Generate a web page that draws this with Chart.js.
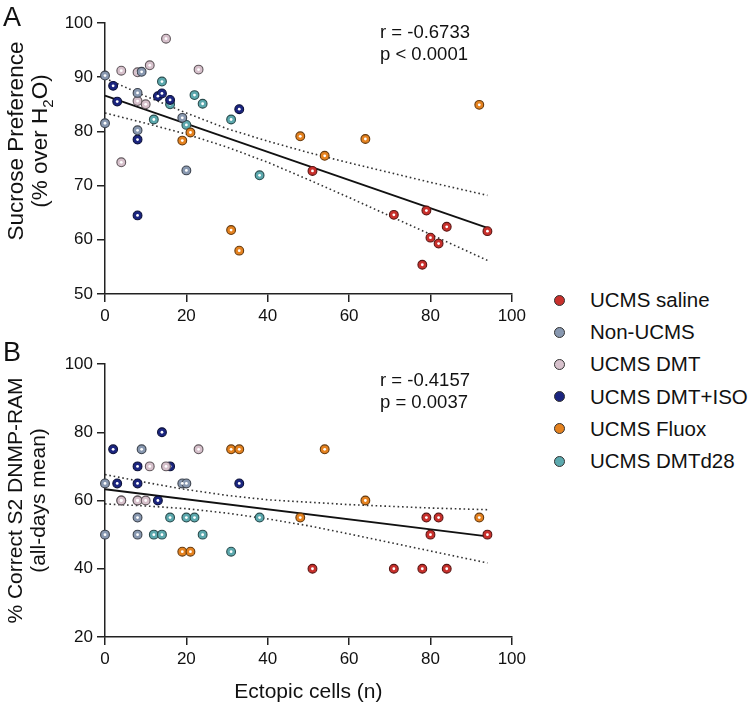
<!DOCTYPE html>
<html><head><meta charset="utf-8">
<script src="https://cdn.jsdelivr.net/npm/chart.js@4.4.1/dist/chart.umd.min.js"></script>
<style>
html,body{margin:0;padding:0;background:#fff;width:750px;height:706px;overflow:hidden;font-family:"Liberation Sans",Arial,sans-serif;color:#111;}
canvas{position:absolute;left:0;}
#ca{top:0;}
#cb{top:340px;}
.lbl{position:absolute;font-size:27px;line-height:27px;}
.ann{position:absolute;font-size:18.5px;line-height:22px;white-space:nowrap;}
.ytitle{position:absolute;width:260px;height:48px;left:-102px;top:117px;text-align:center;font-size:22.5px;line-height:24px;transform:rotate(-90deg);white-space:nowrap;}
#legend{position:absolute;left:550px;top:284px;}
.item{height:32.2px;display:flex;align-items:center;font-size:20.5px;white-space:nowrap;}
.dot{width:9px;height:9px;border-radius:50%;border:1px solid #333;margin-left:4px;margin-right:25px;flex:none;}
</style></head>
<body>
<canvas id="ca" width="530" height="340"></canvas>
<canvas id="cb" width="530" height="366"></canvas>
<div class="lbl" style="left:3px;top:4px;">A</div>
<div class="lbl" style="left:3px;top:339px;">B</div>
<div class="ytitle">Sucrose Preference<br>(% over H<sub style="font-size:15px;line-height:0;">2</sub>O)</div>
<div class="ann" style="left:380px;top:21px;">r = -0.6733<br>p &lt; 0.0001</div>
<div class="ann" style="left:380px;top:369px;">r = -0.4157<br>p = 0.0037</div>
<div id="legend"></div>
<script>
// ---------- data ----------
const groupNames = ["UCMS saline","Non-UCMS","UCMS DMT","UCMS DMT+ISO","UCMS Fluox","UCMS DMTd28"];
const groupColors = ["#C9302C","#8898B0","#D7C1CC","#1B2580","#E5821F","#5CA9AE"];

const salineX = [51,71,78,79,80,82,84,94];
const salineA = [72.7,64.6,55.4,65.4,60.4,59.3,62.4,61.6];
const salineB = [40,40,40,55,50,55,40,50];

const nonX = [0,0,8,8,9,19,20];
const nonA = [90.3,81.5,87.1,80.2,91,82.5,72.8];
const nonB = [65,50,55,50,75,65,65];

const dmtX = [4,4,8,8,10,11,15,23];
const dmtA = [91.2,74.3,90.9,85.6,85,92.2,97.1,91.4];
const dmtB = [60,60,60,60,60,70,70,75];

const isoX = [2,3,8,8,13,14,16,33];
const isoA = [88.4,85.5,78.5,64.5,86.5,87,85.8,84.1];
const isoB = [75,65,65,70,60,80,70,65];

const fluoxX = [19,21,31,33,48,54,64,92];
const fluoxA = [78.3,79.8,61.8,58,79.1,75.5,78.6,84.9];
const fluoxB = [45,45,75,75,55,75,60,55];

const d28X = [12,14,16,20,22,24,31,38];
const d28A = [82.2,89.2,85,81.2,86.7,85.1,82.2,71.9];
const d28B = [50,50,55,55,55,50,45,55];

// regression lines and 95% bands
const fitX = [0,94];
const fitA = [86.6,62.2];
const fitB = [63.3,49.5];
const bandX = [0,10,20,30,40,50,60,70,80,94];
const bandAUpper = [89.8,86.5,83.4,80.5,78.2,76.1,74.2,72.4,70.6,68.2];
const bandALower = [83.4,81.5,79.5,77.1,74.3,71.1,67.8,64.4,61.0,56.2];
const bandBUpper = [67.6,65.3,63.2,61.5,60.2,59.5,58.8,58.3,57.8,57.3];
const bandBLower = [59.0,58.4,57.6,56.3,54.6,52.6,50.2,47.7,45.2,41.7];

const xTicks = [0,20,40,60,80,100];
const yTicksA = [50,60,70,80,90,100];
const yTicksB = [20,40,60,80,100];

// ---------- helpers ----------
const FONT = "'Liberation Sans', Arial, sans-serif";
const pts = (xs, ys) => xs.map((x,i)=>({x:x,y:ys[i]}));
function darker(hex){
  const n=parseInt(hex.slice(1),16);
  const r=(n>>16)&255,g=(n>>8)&255,b=n&255;
  const f=0.45;
  return `rgb(${Math.round(r*f)},${Math.round(g*f)},${Math.round(b*f)})`;
}
const groupsX = [salineX,nonX,dmtX,isoX,fluoxX,d28X];
const groupsA = [salineA,nonA,dmtA,isoA,fluoxA,d28A];
const groupsB = [salineB,nonB,dmtB,isoB,fluoxB,d28B];

function lineDs(xs, ys, dashed){
  return {data:pts(xs,ys), showLine:true, pointRadius:0, pointHoverRadius:0,
    borderColor: dashed ? '#333' : '#111', borderWidth: dashed ? 1.6 : 1.8,
    borderDash: dashed ? [1.6,2.8] : [], fill:false, clip:false, tension:0, order:10};
}
function scatterSets(ysArr){
  return groupNames.map((n,i)=>({label:n, data:pts(groupsX[i], ysArr[i]),
    backgroundColor:groupColors[i], borderColor:darker(groupColors[i]), borderWidth:1.1,
    pointRadius:4.4, pointHoverRadius:4.4, showLine:false, clip:false, centerDot:true, order:1}));
}

const centerDots = {id:'centerDots', afterDatasetDraw(chart, args){
  const ds = chart.data.datasets[args.index];
  if(!ds.centerDot) return;
  const ctx = chart.ctx; ctx.save(); ctx.fillStyle='#fff';
  args.meta.data.forEach(p=>{ ctx.beginPath(); ctx.arc(p.x,p.y,1.4,0,Math.PI*2); ctx.fill(); });
  ctx.restore();
}};

function axisCommon(){
  return {
    grid:{drawOnChartArea:false, drawTicks:true, tickLength:8, color:'#222', lineWidth:1.5},
    border:{display:true, color:'#222', width:1.5},
    ticks:{color:'#111', font:{size:17, family:FONT}, padding:4, autoSkip:false, maxRotation:0}
  };
}

function makeChart(id, datasets, yMin, yMax, yTicks, yTitle, xTitle, xHeight, padTop){
  const xs = axisCommon();
  Object.assign(xs, {type:'linear', min:0, max:100,
    afterBuildTicks: s => { s.ticks = xTicks.map(v=>({value:v})); },
    afterFit: s => { s.height = xHeight; }});
  xs.title = xTitle ? {display:true, text:xTitle, color:'#111', font:{size:21, family:FONT}, padding:{top:0,bottom:1.5}} : {display:false};
  const ys = axisCommon();
  Object.assign(ys, {type:'linear', min:yMin, max:yMax,
    afterBuildTicks: s => { s.ticks = yTicks.map(v=>({value:v})); },
    afterFit: s => { s.width = 105; }});
  ys.title = yTitle ? {display:true, text:yTitle, color:'#111', font:{size:21, family:FONT, lineHeight:1.12}, padding:{top:4,bottom:0}} : {display:false};
  return new Chart(document.getElementById(id), {
    type:'scatter',
    data:{datasets:datasets},
    options:{responsive:false, animation:false, devicePixelRatio:1,
      layout:{padding:{top:padTop, right:16, left:0, bottom:0}},
      plugins:{legend:{display:false}, tooltip:{enabled:false}},
      scales:{x:xs, y:ys}},
    plugins:[centerDots]
  });
}

const dsA = [lineDs(bandX,bandAUpper,true), lineDs(bandX,bandALower,true), lineDs(fitX,fitA,false)].concat(scatterSets(groupsA));
const dsB = [lineDs(bandX,bandBUpper,true), lineDs(bandX,bandBLower,true), lineDs(fitX,fitB,false)].concat(scatterSets(groupsB));

makeChart('ca', dsA, 50, 100, yTicksA, null, null, 46, 23);
makeChart('cb', dsB, 20, 100, yTicksB, ["% Correct S2 DNMP-RAM","(all-days mean)"], "Ectopic cells (n)", 69, 24);

// legend
const lg = document.getElementById('legend');
groupNames.forEach((n,i)=>{
  const it=document.createElement('div'); it.className='item';
  const d=document.createElement('span'); d.className='dot'; d.style.background=groupColors[i];
  const t=document.createElement('span'); t.textContent=n;
  it.appendChild(d); it.appendChild(t); lg.appendChild(it);
});
</script>
</body></html>
